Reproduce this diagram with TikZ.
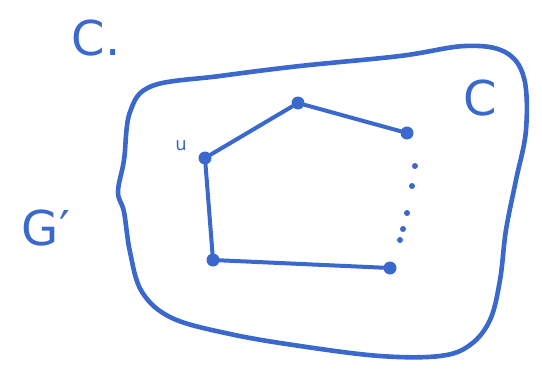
\documentclass[tikz,border=0pt]{standalone}
\usepackage{fontspec}
\setmainfont{DejaVu Sans}
\definecolor{ink}{HTML}{3A68CC}
\begin{document}
\begin{tikzpicture}[x=1pt,y=-1pt,
  vert/.style={circle,fill=ink,inner sep=0pt,minimum size=13pt},
  edge/.style={draw=ink,line width=4pt,line cap=round},
  dotm/.style={circle,fill=ink,inner sep=0pt,minimum size=6pt},
  lab/.style={text=ink,inner sep=0pt}]
\useasboundingbox (0,0) rectangle (542,375);
% outer blob
\draw[ink,line width=4.6pt,line join=round] plot[smooth cycle,tension=0.6] coordinates {
 (152,86) (220,76) (300,66) (400,56) (465,46) (505,52) (524,78) (526,130)
 (516,180) (506,230) (500,280) (490,320) (470,345) (440,356) (380,356)
 (300,346) (230,334) (172,318) (142,292) (130,252) (124,212) (118,192)
 (124,160) (130,112)};
% vertices
\node[vert] (u) at (205,158) {};
\node[vert] (t) at (298,103) {};
\node[vert] (r) at (407,133) {};
\node[vert] (bl) at (213,260) {};
\node[vert] (br) at (390,268) {};
\draw[edge] (u) -- (t) -- (r);
\draw[edge] (u) -- (bl) -- (br);
% dots
\node[dotm] (d1) at (415,166) {};
\node[dotm] (d2) at (412,186) {};
\node[dotm] (d3) at (407,213) {};
\node[dotm] (d4) at (403,229) {};
\node[dotm] (d5) at (400,240) {};
% labels
\node[lab,font=\fontsize{48}{48}\selectfont] (c1) at (96,38) {C.};
\node[lab,font=\fontsize{48}{48}\selectfont] (c2) at (480,98) {C};
\node[lab,font=\fontsize{48}{48}\selectfont] (g) at (46,228) {G′};
\node[lab,font=\fontsize{18}{18}\selectfont] (ul) at (181,146) {u};
\end{tikzpicture}
\end{document}
